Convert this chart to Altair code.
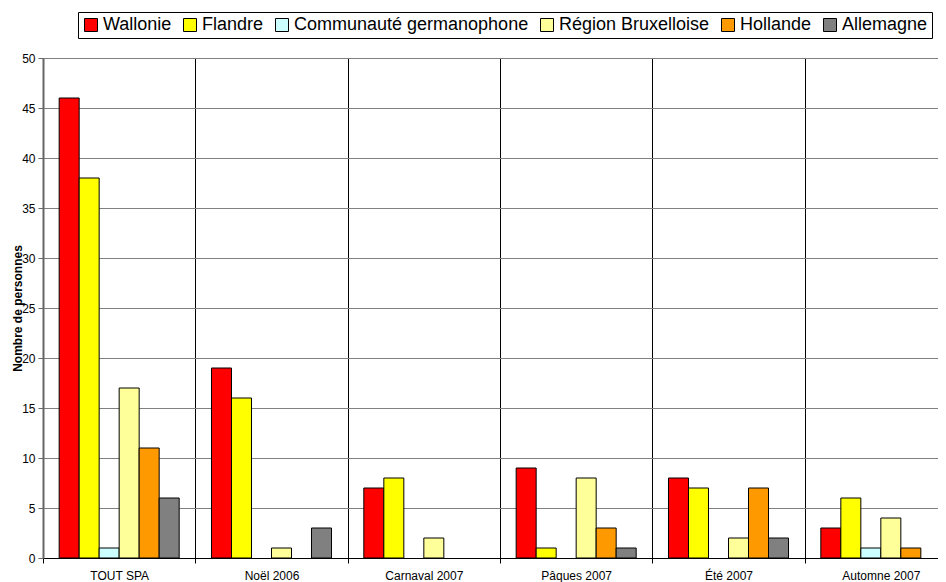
import altair as alt
import pandas as pd

categories = ["TOUT SPA", "Noël 2006", "Carnaval 2007", "Pâques 2007", "Été 2007", "Automne 2007"]
series = ["Wallonie", "Flandre", "Communauté germanophone", "Région Bruxelloise", "Hollande", "Allemagne"]
colors = ["#FF0000", "#FFFF00", "#CCFFFF", "#FFFF99", "#FF9900", "#808080"]

wallonie = [46, 19, 7, 9, 8, 3]
flandre = [38, 16, 8, 1, 7, 6]
germanophone = [1, 0, 0, 0, 0, 1]
bruxelles = [17, 1, 2, 8, 2, 4]
hollande = [11, 0, 0, 3, 7, 1]
allemagne = [6, 3, 0, 1, 2, 0]

values = [wallonie, flandre, germanophone, bruxelles, hollande, allemagne]
rows = []
for s, vals in zip(series, values):
    for c, v in zip(categories, vals):
        rows.append({"cat": c, "series": s, "value": v})
df = pd.DataFrame(rows)
df = df[df["value"] > 0]

FONT = "Liberation Sans"

chart = alt.Chart(df).mark_bar(stroke="black", strokeWidth=1).encode(
    x=alt.X("cat:N", sort=categories,
            scale=alt.Scale(domain=categories, range=[0, 914], paddingInner=0, paddingOuter=0),
            axis=alt.Axis(title=None, labelAngle=0, tickBand="extent", grid=True,
                          gridColor="black", gridWidth=1, domainColor="black",
                          tickColor="black", tickSize=5, labelPadding=7,
                          labelFontSize=12, labelColor="black", labelFont=FONT)),
    xOffset=alt.XOffset("series:N", sort=series,
                        scale=alt.Scale(domain=series, paddingInner=0, paddingOuter=0.808)),
    y=alt.Y("value:Q",
            scale=alt.Scale(domain=[0, 50], nice=False),
            axis=alt.Axis(title="Nombre de personnes", values=list(range(0, 51, 5)),
                          grid=True, gridColor="#808080", gridWidth=1,
                          domainColor="#666666", domainWidth=2,
                          tickColor="#666666", tickSize=5, labelPadding=3,
                          labelFontSize=12, labelColor="black", labelFont=FONT,
                          titleFont=FONT, titleFontSize=12, titleFontWeight="bold",
                          titleColor="black", titleX=-26, titleY=250,
                          titleAlign="center", titleBaseline="middle", titleAngle=-90)),
    color=alt.Color("series:N", sort=series,
                    scale=alt.Scale(domain=series, range=colors),
                    legend=alt.Legend(title=None, orient="none", legendX=35, legendY=-46,
                                      direction="horizontal", columns=6, labelLimit=500,
                                      strokeColor="black", fillColor="white", padding=4,
                                      symbolType="square", symbolSize=169,
                                      symbolStrokeColor="black", symbolStrokeWidth=1,
                                      labelFontSize=18, labelFont=FONT, labelColor="black",
                                      labelOffset=3, columnPadding=9)),
).properties(
    width=895, height=500,
    autosize=alt.AutoSizeParams(type="none"),
    padding={"left": 35, "top": 50, "right": 0, "bottom": 24},
).configure_view(stroke=None).configure(background="white")

chart.save("out.html", embed_options={"renderer": "svg", "actions": False})
